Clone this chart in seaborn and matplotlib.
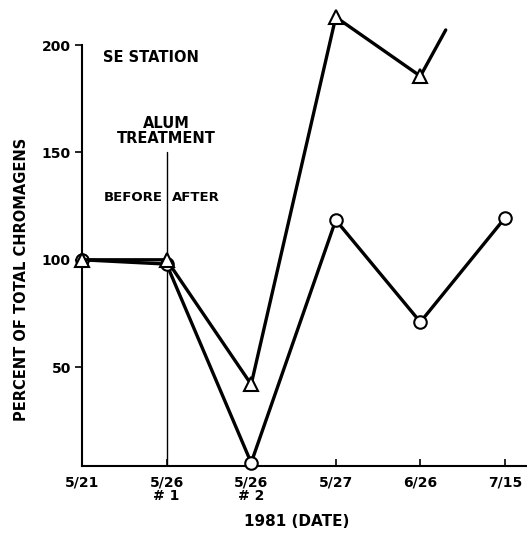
import matplotlib
matplotlib.use("Agg")
import matplotlib.pyplot as plt
import seaborn as sns
import pandas as pd

# ---- data ----
date_labels = ["5/21", "5/26\n# 1", "5/26\n# 2", "5/27", "6/26", "7/15"]
date_pos = [0, 1, 2, 3, 4, 5]
triangle_vals = [100, 100, 42, 213, 185.5]
circle_vals = [100, 98, 5.5, 118.5, 71, 119.5]
tail_x = [4, 4.3]
tail_y = [185.5, 207]
y_ticks = [50, 100, 150, 200]

sns.set_theme(style="white")
plt.rcParams['font.family'] = ['DejaVu Sans']
plt.rcParams.update({"text.color": "black", "axes.labelcolor": "black",
                     "xtick.color": "black", "ytick.color": "black"})

fig = plt.figure(figsize=(5.27, 5.34), dpi=100)
ax = fig.add_axes([82/527, 1-466/534, 1-82/527, (466-45)/534])

tri_df = pd.DataFrame({"x": date_pos[:len(triangle_vals)], "y": triangle_vals})
cir_df = pd.DataFrame({"x": date_pos[:len(circle_vals)], "y": circle_vals})

sns.lineplot(data=cir_df, x="x", y="y", ax=ax, color="black", lw=2.4,
             marker="o", markersize=9, markerfacecolor="white",
             markeredgecolor="black", markeredgewidth=1.5, clip_on=False, zorder=3)
sns.lineplot(data=tri_df, x="x", y="y", ax=ax, color="black", lw=2.4,
             marker="^", markersize=10, markerfacecolor="white",
             markeredgecolor="black", markeredgewidth=1.5, clip_on=False, zorder=4)
ax.plot(tail_x, tail_y, color="black", lw=2.4, clip_on=False, zorder=2)

ax.set_xlim(0, (527-83)/84.4)
ax.set_ylim(4, 200)
ax.set_xticks(date_pos)
ax.set_xticklabels(date_labels, fontsize=10, fontweight="bold", linespacing=0.95)
ax.set_yticks(y_ticks)
ax.set_yticklabels([str(v) for v in y_ticks], fontsize=10, fontweight="bold")
ax.tick_params(axis="y", direction="out", length=5, width=1.2, color="black", pad=3, left=True)
ax.tick_params(axis="x", direction="in", length=5, width=1.2, color="black", pad=7, bottom=True)

for s in ["top", "right"]:
    ax.spines[s].set_visible(False)
for s in ["left", "bottom"]:
    ax.spines[s].set_color("black")
    ax.spines[s].set_linewidth(1.5)

# vertical treatment line
ax.axvline(1, ymin=0, ymax=(150-4)/196, color="black", lw=1.0, zorder=1)

ax.text(0.25, 194, "SE STATION", fontsize=10.5, fontweight="bold", ha="left", va="center")
ax.text(1.0, 160, "ALUM\nTREATMENT", fontsize=10.5, fontweight="bold", ha="center",
        va="center", linespacing=1.0)
ax.text(0.95, 129, "BEFORE", fontsize=9.5, fontweight="bold", ha="right", va="center")
ax.text(1.06, 129, "AFTER", fontsize=9.5, fontweight="bold", ha="left", va="center")

ax.set_xlabel("1981 (DATE)", fontsize=11, fontweight="bold")
ax.set_ylabel("PERCENT OF TOTAL CHROMAGENS", fontsize=10.5, fontweight="bold")
ax.xaxis.set_label_coords((297-82)/(527-82), -(514-466)/(466-45))
ax.yaxis.set_label_coords(-(82-29)/(527-82), (466-279)/(466-45))

fig.savefig("out.png", dpi=100)
